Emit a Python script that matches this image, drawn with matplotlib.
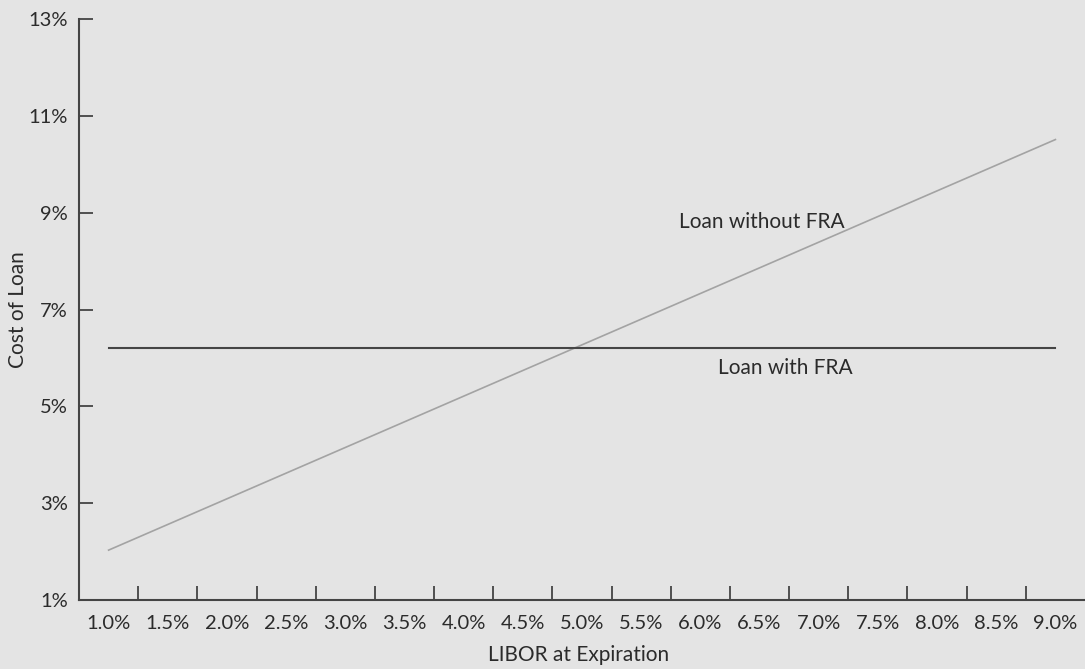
#!/usr/bin/env python3
"""Cost of loan with and without an FRA, against LIBOR at expiration."""

import matplotlib
matplotlib.use("Agg")
import matplotlib.pyplot as plt

LIBOR_LABELS = ["1.0%", "1.5%", "2.0%", "2.5%", "3.0%", "3.5%", "4.0%", "4.5%", "5.0%",
                "5.5%", "6.0%", "6.5%", "7.0%", "7.5%", "8.0%", "8.5%", "9.0%"]
COST_WITHOUT_FRA = [2.03, 2.56, 3.09, 3.62, 4.15, 4.68, 5.21, 5.74, 6.27,
                    6.80, 7.33, 7.86, 8.39, 8.92, 9.45, 9.98, 10.51]
COST_WITH_FRA = [6.2] * len(LIBOR_LABELS)
Y_TICKS = [1, 3, 5, 7, 9, 11, 13]

BG = "#e4e4e4"
INK = "#2b2b2b"

plt.rcParams["font.family"] = ["Lato", "DejaVu Sans"]

fig = plt.figure(figsize=(10.85, 6.69), dpi=100, facecolor=BG)
ax = fig.add_axes([79 / 1085, 1 - 600 / 669, 1 - 79 / 1085, (600 - 19) / 669])
ax.set_facecolor(BG)

xs = list(range(len(LIBOR_LABELS)))
ax.plot(xs, COST_WITHOUT_FRA, color="#a3a3a3", linewidth=1.2)
ax.plot(xs, COST_WITH_FRA, color="#454545", linewidth=1.5)

ax.text(11.04, 8.81, "Loan without FRA", fontsize=15, color=INK, ha="center", va="center")
ax.text(11.43, 5.79, "Loan with FRA", fontsize=15, color=INK, ha="center", va="center")

ax.set_xlim(-0.5, len(LIBOR_LABELS) - 0.5)
ax.set_ylim(1, 13)

for side in ("top", "right"):
    ax.spines[side].set_visible(False)
for side in ("left", "bottom"):
    ax.spines[side].set_color("#444444")
    ax.spines[side].set_linewidth(1.5)

ax.set_xticks(xs)
ax.set_xticklabels(LIBOR_LABELS)
ax.set_xticks([x + 0.5 for x in xs[:-1]], minor=True)
ax.tick_params(axis="x", which="major", length=0, pad=11, labelsize=14.5, labelcolor=INK)
ax.tick_params(axis="x", which="minor", direction="in", length=10, width=1.3, color="#444444")

ax.set_yticks(Y_TICKS)
ax.set_yticklabels([f"{v}%" for v in Y_TICKS])
ax.tick_params(axis="y", direction="in", length=10, width=1.3, color="#444444",
               pad=8, labelsize=14.5, labelcolor=INK)

ax.set_xlabel("LIBOR at Expiration", fontsize=15, color=INK)
ax.set_ylabel("Cost of Loan", fontsize=15, color=INK)
ax.xaxis.set_label_coords(0.497, -0.095)
ax.yaxis.set_label_coords(-0.061, 0.5)
ax.xaxis.label.set_va("center")
ax.yaxis.label.set_va("center")

fig.savefig("out.png", dpi=100, facecolor=BG)
